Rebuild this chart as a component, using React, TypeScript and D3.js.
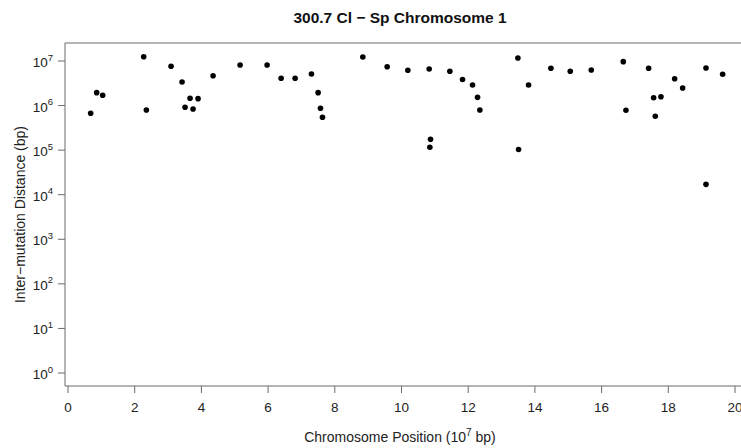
import React from "react";
import * as d3 from "d3";

const W = 741;
const H = 448;

const title = "300.7 Cl \u2212 Sp Chromosome 1";
const xTitle = "Chromosome Position (10";
const xTitleSup = "7";
const xTitleEnd = " bp)";
const yTitle = "Inter\u2212mutation Distance (bp)";

const xTicks = [0, 2, 4, 6, 8, 10, 12, 14, 16, 18, 20];
const yExponents = [0, 1, 2, 3, 4, 5, 6, 7];

// position in units of 10^7 bp
const positions = [
  0.68, 0.86, 1.04, 2.27, 2.35, 3.09, 3.42, 3.51, 3.66, 3.75, 3.9, 4.35,
  5.16, 5.97, 6.39, 6.81, 7.3, 7.5, 7.57, 7.63, 8.84, 9.57, 10.19, 10.83,
  10.87, 10.85, 11.45, 11.83, 12.13, 12.28, 12.35, 13.49, 13.81, 13.51,
  14.48, 15.06, 15.69, 16.65, 16.73, 17.41, 17.56, 17.61, 17.78, 18.19,
  18.43, 19.13, 19.13, 19.63,
];
// inter-mutation distance (bp)
const distances = [
  6.7e5, 1.95e6, 1.7e6, 1.25e7, 7.96e5, 7.6e6, 3.38e6, 9.15e5, 1.46e6, 8.4e5,
  1.43e6, 4.68e6, 8.14e6, 8.14e6, 4.09e6, 4.09e6, 5.11e6, 1.95e6, 8.7e5,
  5.46e5, 1.23e7, 7.45e6, 6.19e6, 6.62e6, 1.75e5, 1.16e5, 5.87e6, 3.85e6,
  2.9e6, 1.53e6, 7.96e5, 1.17e7, 2.9e6, 1.03e5, 6.86e6, 5.87e6, 6.29e6,
  9.66e6, 7.84e5, 6.86e6, 1.5e6, 5.74e5, 1.58e6, 4.01e6, 2.48e6, 6.97e6,
  1.71e4, 5.03e6,
];

export default function App() {
  const left = 65;
  const top = 43;
  const bottom = 386;
  const x = d3.scaleLinear().domain([0, 20]).range([68, 735]);
  const y = d3.scaleLog().domain([1, 1e7]).range([373, 61]);
  const font = "Liberation Sans, Arial, sans-serif";
  const axisCol = "#6b6b6b";
  const textCol = "#222";

  return (
    <svg
      width={W}
      height={H}
      style={{ position: "absolute", left: 0, top: 0, background: "#fff" }}
      fontFamily={font}
    >
      <text
        x={400}
        y={23}
        textAnchor="middle"
        fontSize={15.5}
        fontWeight="bold"
        fill="#111"
      >
        {title}
      </text>

      {/* box */}
      <path
        d={`M${W + 2},${top}H${left}V${bottom}H${W + 2}`}
        fill="none"
        stroke={axisCol}
        strokeWidth={1}
      />

      {/* y axis ticks */}
      {yExponents.map((e) => {
        const yy = y(Math.pow(10, e));
        return (
          <g key={"y" + e}>
            <line x1={58} x2={left} y1={yy} y2={yy} stroke={axisCol} />
            <text
              x={53}
              y={yy + 6}
              textAnchor="end"
              fontSize={13.5}
              fill={textCol}
            >
              10
              <tspan dy={-6.5} fontSize={9.5}>
                {e}
              </tspan>
            </text>
          </g>
        );
      })}

      {/* x axis ticks */}
      {xTicks.map((t) => {
        const xx = x(t);
        return (
          <g key={"x" + t}>
            <line x1={xx} x2={xx} y1={bottom} y2={bottom + 7} stroke={axisCol} />
            <text
              x={xx}
              y={412}
              textAnchor="middle"
              fontSize={13.5}
              fill={textCol}
            >
              {t}
            </text>
          </g>
        );
      })}

      {/* axis titles */}
      <text x={400} y={442} textAnchor="middle" fontSize={14} fill={textCol}>
        {xTitle}
        <tspan dy={-6} fontSize={10}>
          {xTitleSup}
        </tspan>
        <tspan dy={6}>{xTitleEnd}</tspan>
      </text>
      <text
        transform={`translate(25,${(top + bottom) / 2}) rotate(-90)`}
        textAnchor="middle"
        fontSize={14}
        fill={textCol}
      >
        {yTitle}
      </text>

      {/* points */}
      {positions.map((p, i) => (
        <circle key={i} cx={x(p)} cy={y(distances[i])} r={2.8} fill="#000" />
      ))}
    </svg>
  );
}
